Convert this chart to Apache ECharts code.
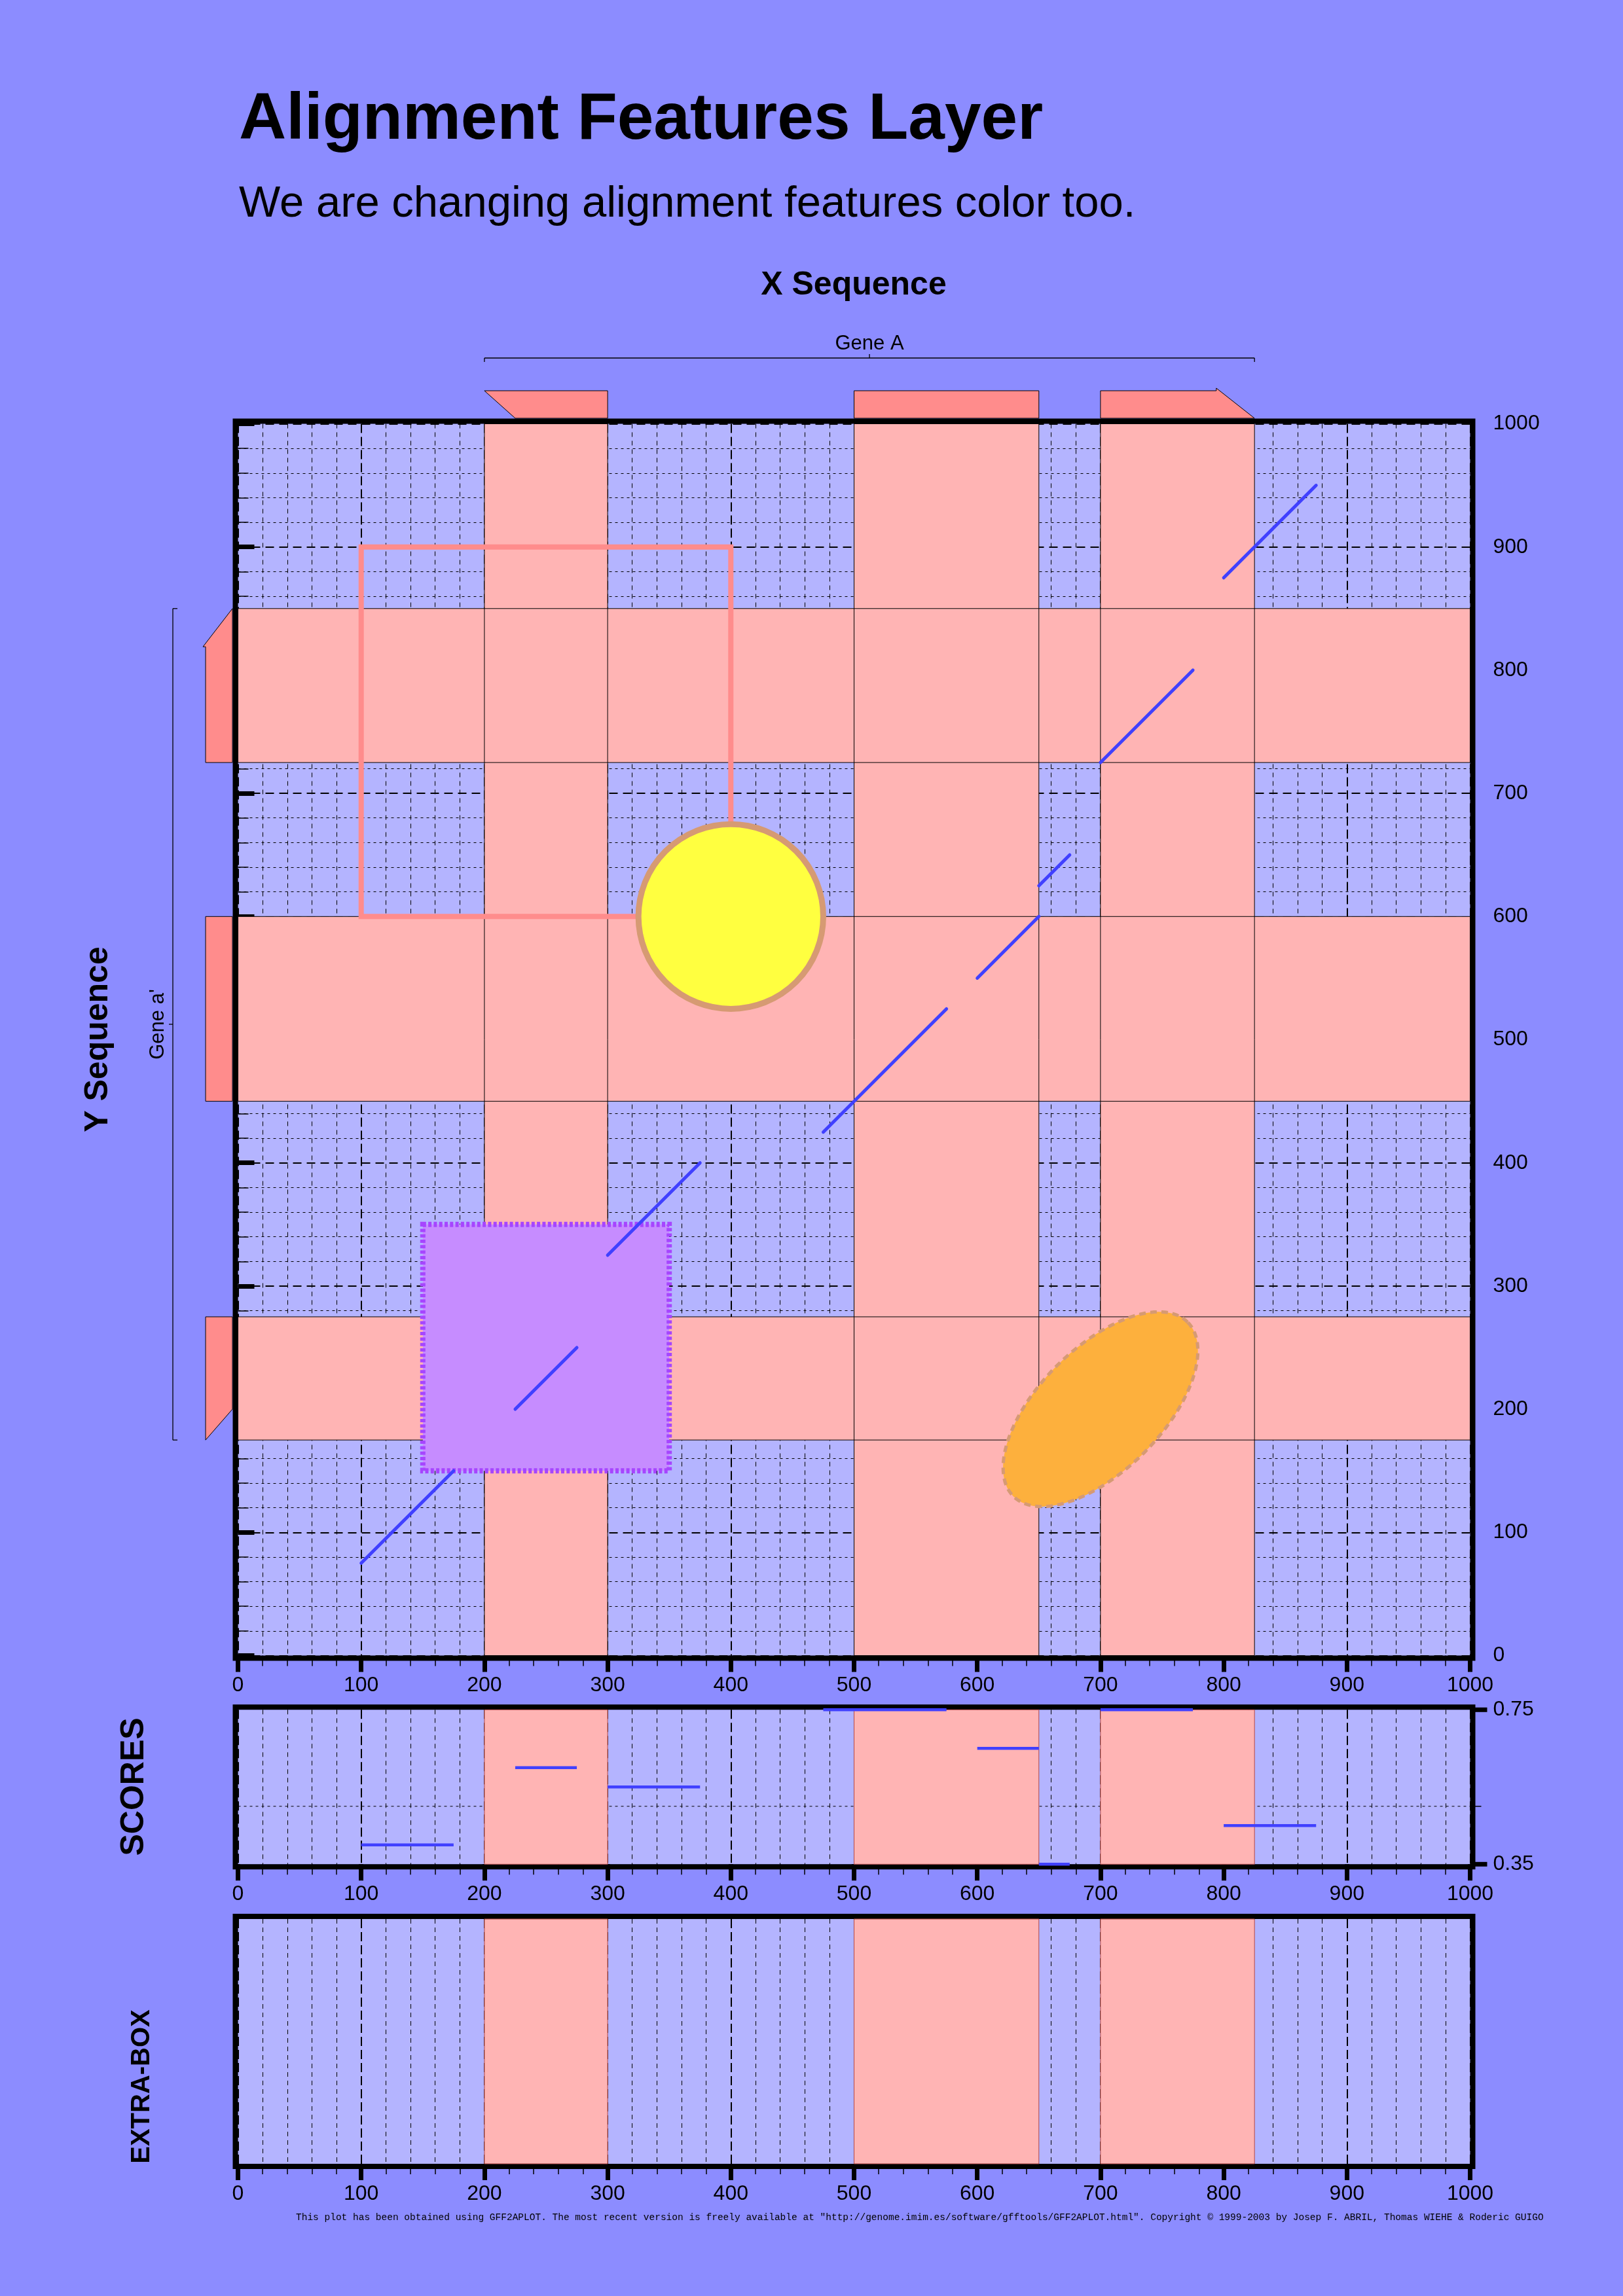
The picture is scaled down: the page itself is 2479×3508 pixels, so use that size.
<!DOCTYPE html>
<html>
<head>
<meta charset="utf-8">
<script src="https://cdn.jsdelivr.net/npm/echarts@6/dist/echarts.min.js"></script>
<style>
html,body{margin:0;padding:0;background:#8C8CFF;}
#chart{width:2479px;height:3508px;}
</style>
</head>
<body>
<div id="chart"></div>
<script>
// ---------------- data ----------------
const titleText = 'Alignment Features Layer';
const subtitleText = 'We are changing alignment features color too.';
const xSeqName = 'X Sequence';
const ySeqName = 'Y Sequence';
const scoresName = 'SCORES';
const extraName = 'EXTRA-BOX';
const footerText = 'This plot has been obtained using GFF2APLOT. The most recent version is freely available at "http://genome.imim.es/software/gfftools/GFF2APLOT.html". Copyright \u00A9 1999-2003 by Josep F. ABRIL, Thomas WIEHE & Roderic GUIGO';

const seqRange = [0, 1000];
const seqStep = 100;
const scoreRange = [0.35, 0.75];
const scoreLabels = [0.35, 0.75];
const scoreGridValues = [0.5];

const xExons = [[200, 300], [500, 650], [700, 825]];
const yExons = [[175, 275], [450, 600], [725, 850]];
const xGenes = [[200, 825]];
const xGeneNames = ['Gene A'];
const yGenes = [[175, 850]];
const yGeneNames = ["Gene a'"];

// alignment segments: x1, y1, x2, y2
const alignments = [
  [100, 75, 175, 150],
  [225, 200, 275, 250],
  [300, 325, 375, 400],
  [475, 425, 575, 525],
  [600, 550, 650, 600],
  [650, 625, 675, 650],
  [700, 725, 775, 800],
  [800, 875, 875, 950]
];
const alignScores = [0.40, 0.60, 0.55, 0.75, 0.65, 0.35, 0.75, 0.45];

// extra shapes (data coordinates)
const openRects = [[100, 600, 400, 900]];       // x1, y1, x2, y2
const circles = [[400, 600, 75]];                // cx, cy, r
const filledSquares = [[150, 150, 350, 350]];    // x1, y1, x2, y2
const ellipses = [[700, 200, 100, 50, 45]];      // cx, cy, a, b, angle(deg)

// ---------------- layout / style ----------------
const FONT = 'Liberation Sans, Arial, Helvetica, sans-serif';
const PAGE_BG = '#8C8CFF';
const PLOT_BG = '#B4B4FF';
const BAND = '#FFB4B4';
const EXON = '#FF8C8C';
const BLUE = '#4040FF';
const TAN = '#D69A73';

const GL = 363.5, GW = 1882;
const MAIN = {top: 647.5, h: 1882};
const SC = {top: 2612.3, h: 236};
const EX = {top: 2932, h: 374};
const FIRST_BEVEL = 25, LAST_BEVEL = 31;

const chart = echarts.init(document.getElementById('chart'), null, {renderer: 'canvas', width: 2479, height: 3508});

function plainNum(v) { return String(v); }

function xAxisCfg(gi) {
  return {
    type: 'value', gridIndex: gi, min: seqRange[0], max: seqRange[1], interval: seqStep, position: 'bottom',
    axisLine: {show: false},
    axisTick: {show: true, length: 25, lineStyle: {color: '#000', width: 7}},
    minorTick: {show: true, splitNumber: 5, length: 16, lineStyle: {color: '#000', width: 1.5}},
    axisLabel: {show: true, margin: 30, fontSize: 32, fontFamily: FONT, color: '#000', hideOverlap: false, formatter: plainNum},
    splitLine: {show: true, lineStyle: {color: '#000', width: 2, type: [14, 6]}},
    minorSplitLine: {show: true, lineStyle: {color: '#000', width: 1, type: [7, 6]}}
  };
}

function frame(g) {
  return {type: 'rect', z: 1, silent: true,
    shape: {x: GL - 4, y: g.top - 4, width: GW + 8, height: g.h + 8},
    style: {fill: 'none', stroke: '#000', lineWidth: 8}};
}

function txt(text, x, y, size, bold, rot, align) {
  return {type: 'text', x: x, y: y, rotation: rot || 0, z: 10, silent: true,
    style: {text: text, fontSize: size, fontWeight: bold ? 'bold' : 'normal', fontFamily: FONT,
      fill: '#000', align: align || 'center', verticalAlign: 'middle'}};
}

function bandFillX(xi, yi, stroke, z) {
  return {type: 'custom', xAxisIndex: xi, yAxisIndex: yi, data: xExons, z: z, silent: true, clip: false,
    renderItem: function (params, api) {
      const cs = params.coordSys;
      const a = api.coord([api.value(0), 0])[0], b = api.coord([api.value(1), 0])[0];
      return {type: 'rect', shape: {x: a, y: cs.y, width: b - a, height: cs.height},
        style: {fill: stroke ? 'none' : BAND, stroke: stroke || null, lineWidth: 1}};
    }};
}
function bandFillY(xi, yi, stroke, z) {
  return {type: 'custom', xAxisIndex: xi, yAxisIndex: yi, data: yExons, z: z, silent: true, clip: false,
    renderItem: function (params, api) {
      const cs = params.coordSys;
      const a = api.coord([0, api.value(1)])[1], b = api.coord([0, api.value(0)])[1];
      return {type: 'rect', shape: {x: cs.x, y: a, width: cs.width, height: b - a},
        style: {fill: stroke ? 'none' : BAND, stroke: stroke || null, lineWidth: 1}};
    }};
}

const scoreSegments = alignments.map(function (d, i) { return [d[0], d[2], alignScores[i]]; });

const option = {
  backgroundColor: PAGE_BG,
  animation: false,
  grid: [
    {left: GL, top: MAIN.top, width: GW, height: MAIN.h, show: true, backgroundColor: PLOT_BG, borderWidth: 0, outerBoundsMode: 'none'},
    {left: GL, top: SC.top, width: GW, height: SC.h, show: true, backgroundColor: PLOT_BG, borderWidth: 0, outerBoundsMode: 'none'},
    {left: GL, top: EX.top, width: GW, height: EX.h, show: true, backgroundColor: PLOT_BG, borderWidth: 0, outerBoundsMode: 'none'}
  ],
  xAxis: [xAxisCfg(0), xAxisCfg(1), xAxisCfg(2)],
  yAxis: [
    {type: 'value', gridIndex: 0, min: seqRange[0], max: seqRange[1], interval: seqStep, position: 'right',
      axisLine: {show: false},
      axisTick: {show: true, length: 25, lineStyle: {color: '#000', width: 7}},
      minorTick: {show: true, splitNumber: 5, length: 16, lineStyle: {color: '#000', width: 1.5}},
      axisLabel: {show: true, margin: 35, fontSize: 32, fontFamily: FONT, color: '#000', hideOverlap: false, formatter: plainNum},
      splitLine: {show: true, lineStyle: {color: '#000', width: 2, type: [13, 8]}},
      minorSplitLine: {show: true, lineStyle: {color: '#000', width: 1, type: [4, 5]}}},
    {type: 'value', gridIndex: 1, min: scoreRange[0], max: scoreRange[1], position: 'right',
      axisLine: {show: false},
      axisTick: {show: false},
      axisLabel: {show: true, customValues: scoreLabels, margin: 35, fontSize: 32, fontFamily: FONT, color: '#000',
        formatter: function (v) { return Number(v).toFixed(2); }},
      splitLine: {show: false}, minorTick: {show: false}, minorSplitLine: {show: false}},
    {type: 'value', gridIndex: 2, min: 0, max: 1, show: false}
  ],
  graphic: [
    frame(MAIN), frame(SC), frame(EX),
    txt(titleText, 365, 184.5, 100, true, 0, 'left'),
    txt(subtitleText, 365, 313, 67, false, 0, 'left'),
    txt(xSeqName, 1304, 436, 50, true),
    txt(ySeqName, 150, 1588, 50, true, Math.PI / 2),
    txt(scoresName, 205, 2730, 50, true, Math.PI / 2),
    txt(extraName, 217, 3188, 40, true, Math.PI / 2),
    {type: 'text', x: 452, y: 3388, z: 10, silent: true,
      style: {text: footerText, fontSize: 14.5, fontFamily: 'Liberation Mono, Courier New, monospace', fill: '#000', align: 'left', verticalAlign: 'middle'}}
  ],
  series: [
    // main plot bands
    bandFillX(0, 0, null, 2),
    bandFillY(0, 0, null, 2),
    bandFillX(0, 0, '#000', 3),
    bandFillY(0, 0, '#000', 3),
    // outer exon boxes along X
    {type: 'custom', xAxisIndex: 0, yAxisIndex: 0, data: xExons, z: 3, silent: true, clip: false,
      renderItem: function (params, api) {
        const cs = params.coordSys, idx = params.dataIndex, last = xExons.length - 1;
        const s = api.value(0), e = api.value(1);
        const yB = cs.y - 8.5, yT = cs.y - 50.5;
        const xs = api.coord([s, 0])[0], xe = api.coord([e, 0])[0];
        let pts;
        if (idx === 0) {
          const xb = api.coord([s + FIRST_BEVEL, 0])[0];
          pts = [[xs, yT], [xe, yT], [xe, yB], [xb, yB]];
        } else if (idx === last) {
          const xb = api.coord([e - LAST_BEVEL, 0])[0];
          pts = [[xs, yT], [xb, yT], [xb, yT - 4], [xe, yB], [xs, yB]];
        } else {
          pts = [[xs, yT], [xe, yT], [xe, yB], [xs, yB]];
        }
        return {type: 'polygon', shape: {points: pts}, style: {fill: EXON, stroke: '#000', lineWidth: 1}};
      }},
    // outer exon boxes along Y
    {type: 'custom', xAxisIndex: 0, yAxisIndex: 0, data: yExons, z: 3, silent: true, clip: false,
      renderItem: function (params, api) {
        const cs = params.coordSys, idx = params.dataIndex, last = yExons.length - 1;
        const s = api.value(0), e = api.value(1);
        const xR = cs.x - 8.5, xL = cs.x - 49.5;
        const ys = api.coord([0, s])[1], ye = api.coord([0, e])[1];
        let pts;
        if (idx === 0) {
          const yb = api.coord([0, s + FIRST_BEVEL])[1];
          pts = [[xL, ye], [xR, ye], [xR, yb], [xL, ys]];
        } else if (idx === last) {
          const yb = api.coord([0, e - LAST_BEVEL])[1];
          pts = [[xR, ye], [xL - 4, yb], [xL, yb], [xL, ys], [xR, ys]];
        } else {
          pts = [[xL, ye], [xR, ye], [xR, ys], [xL, ys]];
        }
        return {type: 'polygon', shape: {points: pts}, style: {fill: EXON, stroke: '#000', lineWidth: 1}};
      }},
    // gene bracket X
    {type: 'custom', xAxisIndex: 0, yAxisIndex: 0, data: xGenes, z: 3, silent: true, clip: false,
      renderItem: function (params, api) {
        const cs = params.coordSys;
        const s = api.value(0), e = api.value(1);
        const x1 = api.coord([s, 0])[0], x2 = api.coord([e, 0])[0], xm = api.coord([(s + e) / 2, 0])[0];
        const yl = cs.y - 100.5;
        const ls = {stroke: '#000', lineWidth: 1.3};
        return {type: 'group', children: [
          {type: 'line', shape: {x1: x1, y1: yl, x2: x2, y2: yl}, style: ls},
          {type: 'line', shape: {x1: x1, y1: yl, x2: x1, y2: yl + 6}, style: ls},
          {type: 'line', shape: {x1: x2, y1: yl, x2: x2, y2: yl + 6}, style: ls},
          {type: 'line', shape: {x1: xm, y1: yl, x2: xm, y2: yl - 6}, style: ls},
          {type: 'text', x: xm, y: cs.y - 122.5, style: {text: xGeneNames[params.dataIndex], fontSize: 31, fontFamily: FONT, fill: '#000', align: 'center', verticalAlign: 'middle'}}
        ]};
      }},
    // gene bracket Y
    {type: 'custom', xAxisIndex: 0, yAxisIndex: 0, data: yGenes, z: 3, silent: true, clip: false,
      renderItem: function (params, api) {
        const cs = params.coordSys;
        const s = api.value(0), e = api.value(1);
        const y1 = api.coord([0, e])[1], y2 = api.coord([0, s])[1], ym = api.coord([0, (s + e) / 2])[1];
        const xl = cs.x - 99.5;
        const ls = {stroke: '#000', lineWidth: 1.3};
        return {type: 'group', children: [
          {type: 'line', shape: {x1: xl, y1: y1, x2: xl, y2: y2}, style: ls},
          {type: 'line', shape: {x1: xl, y1: y1, x2: xl + 7, y2: y1}, style: ls},
          {type: 'line', shape: {x1: xl, y1: y2, x2: xl + 7, y2: y2}, style: ls},
          {type: 'line', shape: {x1: xl, y1: ym, x2: xl - 6, y2: ym}, style: ls},
          {type: 'text', x: cs.x - 122.5, y: ym, rotation: Math.PI / 2, style: {text: yGeneNames[params.dataIndex], fontSize: 31, fontFamily: FONT, fill: '#000', align: 'center', verticalAlign: 'middle'}}
        ]};
      }},
    // open salmon rectangle
    {type: 'custom', xAxisIndex: 0, yAxisIndex: 0, data: openRects, z: 4, silent: true,
      renderItem: function (params, api) {
        const p1 = api.coord([api.value(0), api.value(3)]), p2 = api.coord([api.value(2), api.value(1)]);
        return {type: 'rect', shape: {x: p1[0], y: p1[1], width: p2[0] - p1[0], height: p2[1] - p1[1]},
          style: {fill: 'none', stroke: EXON, lineWidth: 8}};
      }},
    // yellow circle
    {type: 'custom', xAxisIndex: 0, yAxisIndex: 0, data: circles, z: 5, silent: true,
      renderItem: function (params, api) {
        const c = api.coord([api.value(0), api.value(1)]);
        const r = api.size([api.value(2), api.value(2)]);
        return {type: 'circle', shape: {cx: c[0], cy: c[1], r: (r[0] + r[1]) / 2},
          style: {fill: '#FFFF40', stroke: TAN, lineWidth: 9}};
      }},
    // purple square
    {type: 'custom', xAxisIndex: 0, yAxisIndex: 0, data: filledSquares, z: 6, silent: true,
      renderItem: function (params, api) {
        const p1 = api.coord([api.value(0), api.value(3)]), p2 = api.coord([api.value(2), api.value(1)]);
        return {type: 'rect', shape: {x: p1[0], y: p1[1], width: p2[0] - p1[0], height: p2[1] - p1[1]},
          style: {fill: '#C68CFF', stroke: '#A645FF', lineWidth: 8, lineDash: [5, 3.3]}};
      }},
    // orange ellipse
    {type: 'custom', xAxisIndex: 0, yAxisIndex: 0, data: ellipses, z: 7, silent: true,
      renderItem: function (params, api) {
        const cx = api.value(0), cy = api.value(1), a = api.value(2), b = api.value(3);
        const th = api.value(4) * Math.PI / 180;
        const pts = [];
        for (let k = 0; k < 120; k++) {
          const t = k / 120 * Math.PI * 2;
          const dx = a * Math.cos(t) * Math.cos(th) - b * Math.sin(t) * Math.sin(th);
          const dy = a * Math.cos(t) * Math.sin(th) + b * Math.sin(t) * Math.cos(th);
          pts.push(api.coord([cx + dx, cy + dy]));
        }
        return {type: 'polygon', shape: {points: pts},
          style: {fill: '#FDB03D', stroke: TAN, lineWidth: 5, lineDash: [10, 7]}};
      }},
    // alignment segments
    {type: 'custom', xAxisIndex: 0, yAxisIndex: 0, data: alignments, z: 8, silent: true,
      renderItem: function (params, api) {
        const p1 = api.coord([api.value(0), api.value(1)]), p2 = api.coord([api.value(2), api.value(3)]);
        return {type: 'line', shape: {x1: p1[0], y1: p1[1], x2: p2[0], y2: p2[1]},
          style: {stroke: BLUE, lineWidth: 5, lineCap: 'round'}};
      }},
    // scores panel: horizontal grid line + its minor tick on the right
    {type: 'custom', xAxisIndex: 1, yAxisIndex: 1, data: scoreGridValues.map(function (v) { return [v]; }), z: 1, silent: true, clip: false,
      renderItem: function (params, api) {
        const cs = params.coordSys;
        const y = api.coord([0, api.value(0)])[1];
        return {type: 'group', children: [
          {type: 'line', shape: {x1: cs.x, y1: y, x2: cs.x + cs.width, y2: y},
            style: {stroke: '#000', lineWidth: 1, lineDash: [4, 5]}},
          {type: 'line', shape: {x1: cs.x + cs.width, y1: y, x2: cs.x + cs.width + 17, y2: y},
            style: {stroke: '#000', lineWidth: 1.5}}
        ]};
      }},
    // scores panel: major ticks at the labelled score values
    {type: 'custom', xAxisIndex: 1, yAxisIndex: 1, data: scoreLabels.map(function (v) { return [v]; }), z: 1, silent: true, clip: false,
      renderItem: function (params, api) {
        const cs = params.coordSys;
        const y = api.coord([0, api.value(0)])[1];
        return {type: 'line', shape: {x1: cs.x + cs.width, y1: y, x2: cs.x + cs.width + 26, y2: y},
          style: {stroke: '#000', lineWidth: 7}};
      }},
    bandFillX(1, 1, null, 2),
    bandFillX(1, 1, '#B04848', 3),
    {type: 'custom', xAxisIndex: 1, yAxisIndex: 1, data: scoreSegments, z: 8, silent: true, clip: false,
      renderItem: function (params, api) {
        const p1 = api.coord([api.value(0), api.value(2)]), p2 = api.coord([api.value(1), api.value(2)]);
        return {type: 'line', shape: {x1: p1[0], y1: p1[1], x2: p2[0], y2: p2[1]},
          style: {stroke: BLUE, lineWidth: 4.5, lineCap: 'butt'}};
      }},
    // extra box
    bandFillX(2, 2, null, 2),
    bandFillX(2, 2, '#B04848', 3)
  ]
};
chart.setOption(option);
</script>
</body>
</html>
